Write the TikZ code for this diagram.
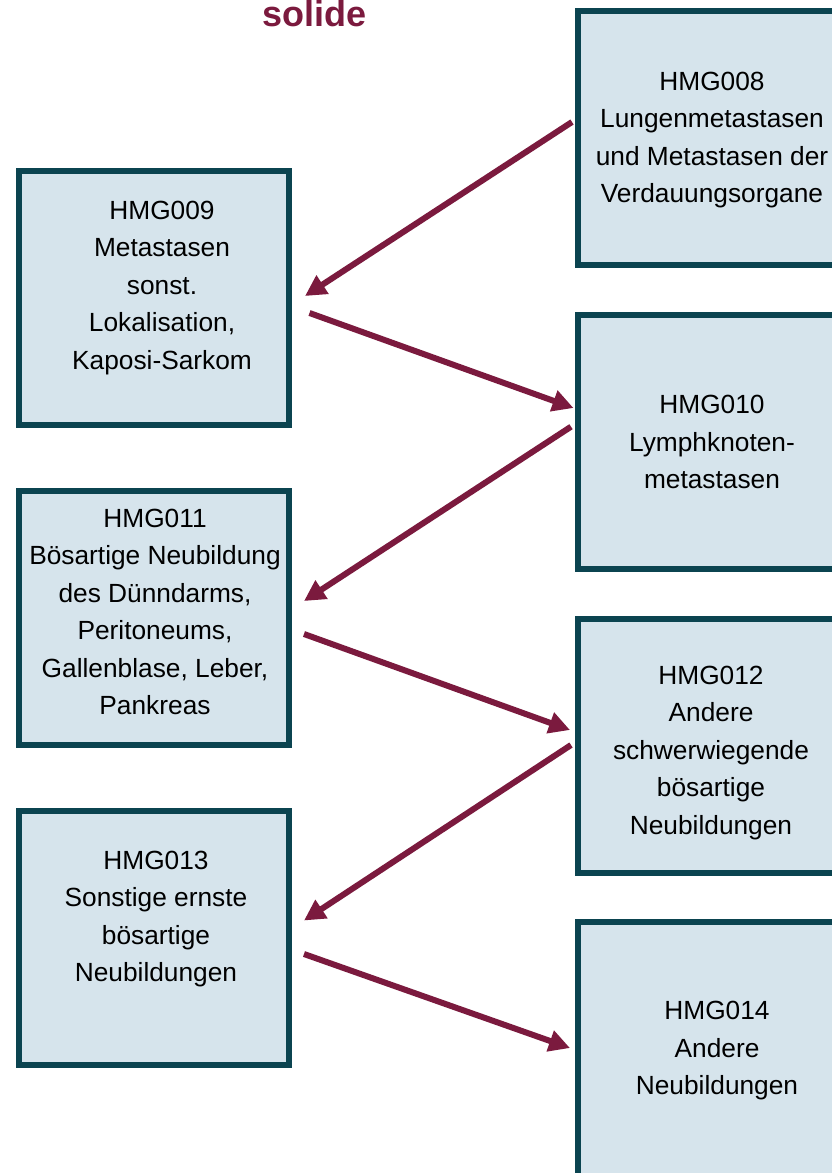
\documentclass[tikz,border=0pt]{standalone}
\usepackage{fontspec}
\setmainfont{Liberation Sans}
\usepackage{xcolor}
\usetikzlibrary{arrows.meta}

\definecolor{boxfill}{HTML}{D6E4EC}
\definecolor{boxline}{HTML}{0B4450}
\definecolor{weinrot}{HTML}{7B1A3E}

\tikzset{
  hmgbox/.style={draw=boxline, line width=6pt, fill=boxfill,
    minimum width=270pt, minimum height=254pt, inner sep=0pt},
  hmgtext/.style={align=center, inner sep=0pt,
    font=\fontsize{26.3}{37.5}\selectfont},
  pfeil/.style={draw=weinrot, line width=6pt,
    -{Triangle[length=21pt,width=21pt]}}
}

\begin{document}
\begin{tikzpicture}[x=1pt,y=-1pt]
\useasboundingbox (0,0) rectangle (832,1173);
\fill[white] (0,0) rectangle (832,1173);

\node[anchor=base, text=weinrot, font=\fontsize{36}{40}\selectfont\bfseries] (titel) at (314.5,26) {solide};

% linke Spalte
\node[hmgbox] (h09) at (153.5,298) {};
\node[hmgbox] (h11) at (153.5,617.5) {};
\node[hmgbox] (h13) at (153.5,937.5) {};
% rechte Spalte
\node[hmgbox] (h08) at (713,137.5) {};
\node[hmgbox] (h10) at (713,442) {};
\node[hmgbox] (h12) at (713,745.5) {};
\node[hmgbox] (h14) at (713,1049) {};

\node[hmgtext] (t09) at (162,288) {HMG009\\Metastasen\\sonst.\\Lokalisation,\\Kaposi-Sarkom};
\node[hmgtext] (t11) at (155,612) {HMG011\\B\"osartige Neubildung\\des D\"unndarms,\\Peritoneums,\\Gallenblase, Leber,\\Pankreas};
\node[hmgtext] (t13) at (156,919) {HMG013\\Sonstige ernste\\b\"osartige\\Neubildungen};
\node[hmgtext] (t08) at (712,140) {HMG008\\Lungenmetastasen\\und Metastasen der\\Verdauungsorgane};
\node[hmgtext] (t10) at (712,442) {HMG010\\Lymphknoten-\\metastasen};
\node[hmgtext] (t12) at (711,753) {HMG012\\Andere\\schwerwiegende\\b\"osartige\\Neubildungen};
\node[hmgtext] (t14) at (717,1051) {HMG014\\Andere\\Neubildungen};

% Pfeile
\draw[pfeil] ([xshift=-3pt,yshift=15.5pt]h08.west) -- ([xshift=13.5pt,yshift=2pt]h09.east);
\draw[pfeil] ([xshift=18pt,yshift=-15pt]h09.east) -- ([xshift=-1.5pt,yshift=34pt]h10.west);
\draw[pfeil] ([xshift=-4pt,yshift=15.3pt]h10.west) -- ([xshift=12.5pt,yshift=16.5pt]h11.east);
\draw[pfeil] ([xshift=12.5pt,yshift=-16.5pt]h11.east) -- ([xshift=-5pt,yshift=15.5pt]h12.west);
\draw[pfeil] ([xshift=-4pt,yshift=0.5pt]h12.west) -- ([xshift=12.5pt,yshift=17pt]h13.east);
\draw[pfeil] ([xshift=12.5pt,yshift=-16.5pt]h13.east) -- ([xshift=-5pt,yshift=1pt]h14.west);
\end{tikzpicture}
\end{document}
